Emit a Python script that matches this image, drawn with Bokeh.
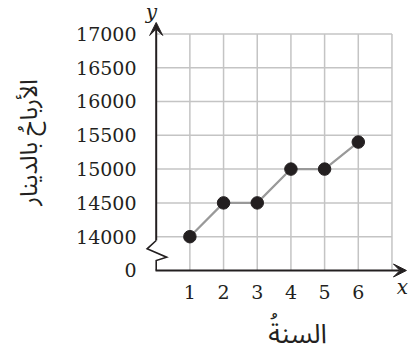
import math
from bokeh.plotting import figure
from bokeh.models import Range1d, Arrow, VeeHead
from bokeh.core.properties import value
from bokeh.embed import file_html
from bokeh.resources import INLINE

# data
years = [1, 2, 3, 4, 5, 6]
profits = [14000, 14500, 14500, 15000, 15000, 15400]
x_ticks = [1, 2, 3, 4, 5, 6]
x_tick_labels = ["1", "2", "3", "4", "5", "6"]
x_grid = [1, 2, 3, 4, 5, 6, 7]
y_ticks = [13500, 14000, 14500, 15000, 15500, 16000, 16500, 17000]
y_tick_labels = ["0", "14000", "14500", "15000", "15500", "16000", "16500", "17000"]
y_grid = [14000, 14500, 15000, 15500, 16000, 16500, 17000]
y_base = 13500
x_title = "السنةُ"
y_title = "الأرباحُ بالدينار"

INK = "#231f20"
GRID = "#c4c4c4"
SERIF = "DejaVu Serif"
ARABIC = "Noto Sans Arabic, DejaVu Sans"

p = figure(width=408, height=353, output_backend="svg", toolbar_location=None,
           x_range=Range1d(-4.623, 7.491), y_range=Range1d(12272, 17494),
           min_border=0)
p.outline_line_color = None
p.background_fill_color = "white"
p.border_fill_color = "white"
p.grid.visible = False
p.xaxis.visible = False
p.yaxis.visible = False

# grid
p.segment(x0=x_grid, y0=[y_base] * len(x_grid), x1=x_grid, y1=[y_grid[-1]] * len(x_grid),
          line_color=GRID, line_width=1.5)
p.segment(x0=[0] * len(y_grid), y0=y_grid, x1=[x_grid[-1]] * len(y_grid), y1=y_grid,
          line_color=GRID, line_width=1.5)

# axis break (zigzag) and lower axis piece
p.line(x=[0, 0, -0.27, 0.31, 0, 0], y=[13944, 13944, 13821, 13697, 13648, y_base],
       line_color=INK, line_width=1.6, line_join="miter")

# axes with arrows
p.add_layout(Arrow(end=VeeHead(size=13, fill_color=INK, line_color=INK),
                   x_start=-0.02, y_start=y_base, x_end=7.43, y_end=y_base,
                   line_color=INK, line_width=2))
p.add_layout(Arrow(end=VeeHead(size=13, fill_color=INK, line_color=INK),
                   x_start=0, y_start=13944, x_end=0, y_end=17169,
                   line_color=INK, line_width=2))

# tick labels
p.text(x=[-0.585] * len(y_ticks), y=y_ticks, text=y_tick_labels,
       text_align="right", text_baseline="middle", text_color=INK,
       text_font=value(SERIF), text_font_size=value("19px"))
p.text(x=x_ticks, y=[13175] * len(x_ticks), text=x_tick_labels,
       text_align="center", text_baseline="middle", text_color=INK,
       text_font=value(SERIF), text_font_size=value("19px"))

# data
p.line(years, profits, line_color="#999999", line_width=2.2)
p.scatter(years, profits, size=12.5, fill_color=INK, line_color=INK)

# axis letters
p.text(x=[7.31], y=[13249], text=["x"], text_align="center", text_baseline="middle",
       text_color=INK, text_font=value(SERIF), text_font_style="italic",
       text_font_size=value("20px"))
p.text(x=[-0.14], y=[17317], text=["y"], text_align="center", text_baseline="middle",
       text_color=INK, text_font=value(SERIF), text_font_style="italic",
       text_font_size=value("20px"))

# titles (right-to-left text: anchor compensated so the word sits centred under the grid)
p.text(x=[4.2], y=[12560], text=[x_title], text_align="center", text_baseline="middle",
       text_color=INK, text_font=value(ARABIC), text_font_size=value("27px"))
p.text(x=[-3.76], y=[15393], text=[y_title], angle=math.pi / 2,
       text_align="center", text_baseline="middle",
       text_color=INK, text_font=value(ARABIC), text_font_size=value("24px"))

open("out.html", "w").write(file_html(p, INLINE))
